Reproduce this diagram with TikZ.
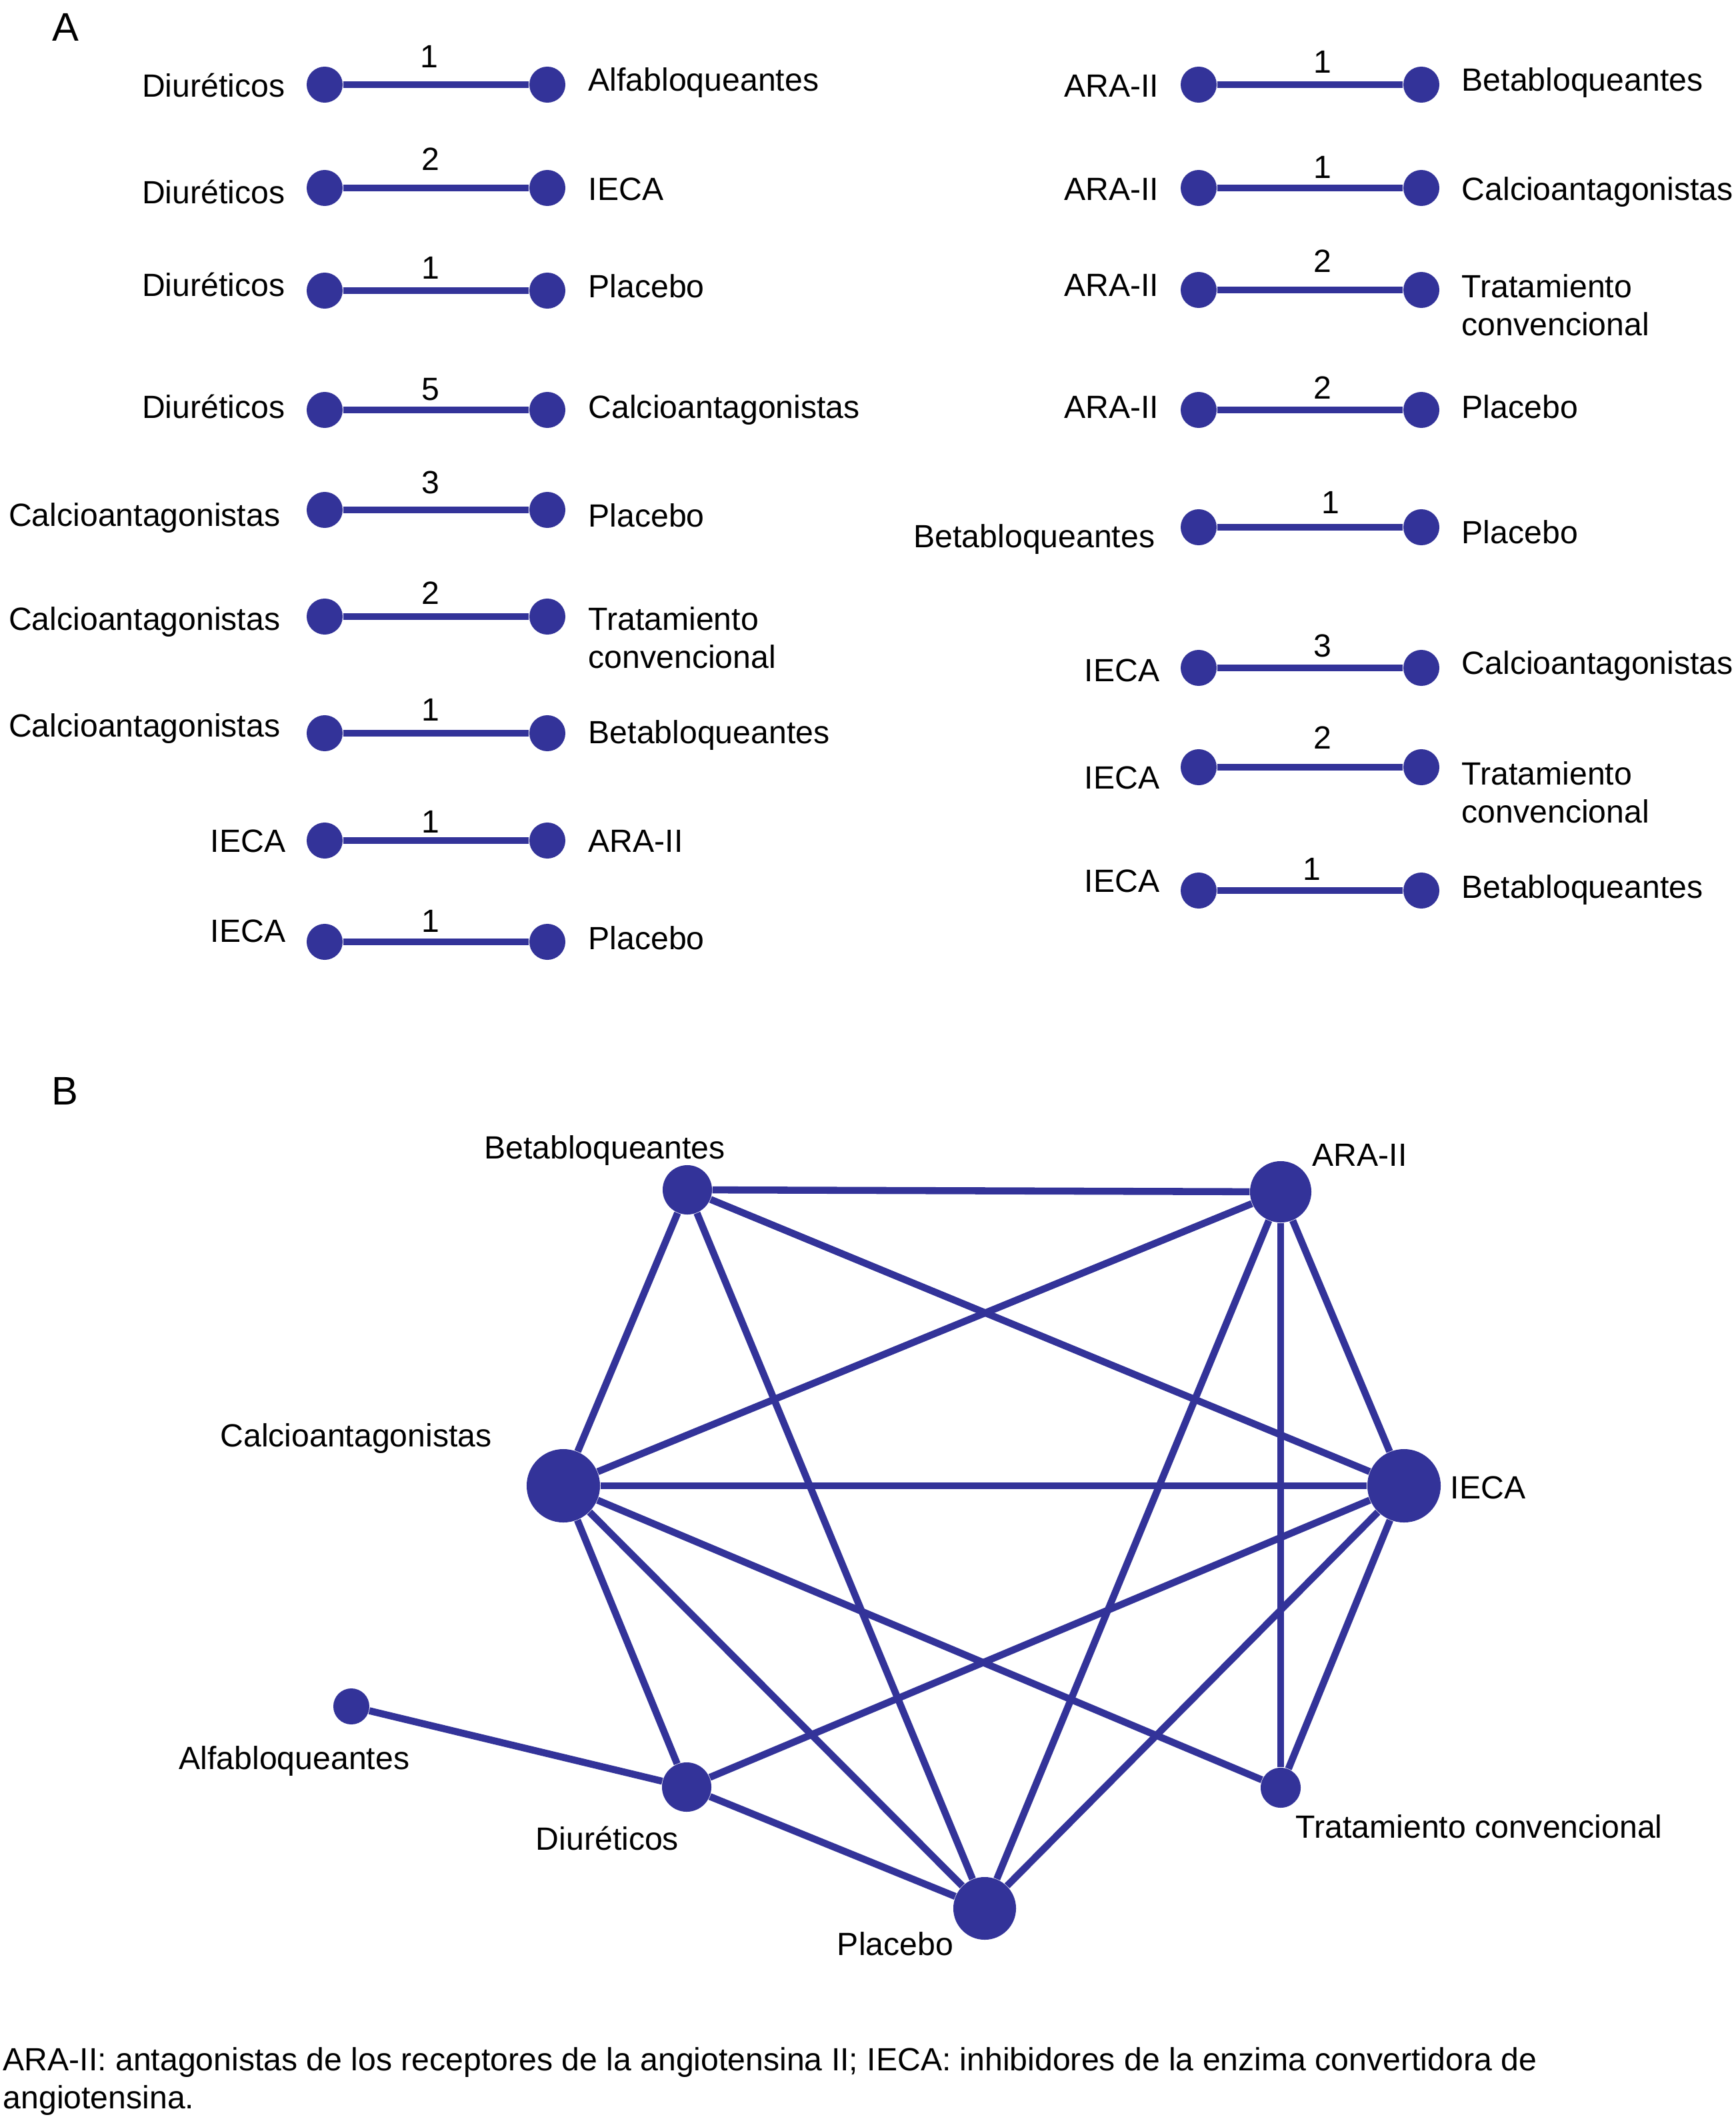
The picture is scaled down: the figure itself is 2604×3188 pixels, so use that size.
\documentclass[tikz,border=0pt]{standalone}
\usepackage{fontspec}
\setmainfont{Liberation Sans}
\usetikzlibrary{backgrounds}
\definecolor{netblue}{RGB}{51,51,153}
\newcommand{\twolines}[2]{\begin{tabular}[t]{@{}l@{}}#1\\#2\end{tabular}}
\begin{document}
\begin{tikzpicture}[x=0.01cm, y=-0.01cm,
  txt/.style={inner sep=0pt, font=\fontsize{13.7pt}{16.46pt}\selectfont},
  lab/.style={txt, anchor=base east},
  rab/.style={txt, anchor=base west},
  adot/.style={circle, fill=netblue, inner sep=0pt, minimum size=0.54cm},
  alink/.style={draw=netblue, line width=3.1pt},
  blink/.style={draw=netblue, line width=3pt},
  bdot/.style={circle, fill=netblue, inner sep=0pt, minimum size=#1},
  num/.style={txt, anchor=base, yshift=#1},
  panel/.style={inner sep=0pt, anchor=base, font=\fontsize{17pt}{20pt}\selectfont}]
\useasboundingbox (0,0) rectangle (2604,3188);
\begin{scope}[on background layer]
  \fill[white] (0,0) rectangle (2604,3188);
\end{scope}

\node[panel] (pA) at (98,62) {A};
\node[panel] (pB) at (97,1657) {B};

% ---------- Panel A, left column ----------
\node[lab] (l1) at (428,146) {Diuréticos};
\node[adot] (d1a) at (487,127) {}; \node[adot] (d1b) at (821,127) {};
\node[rab] (r1) at (882,137) {Alfabloqueantes};
\draw[alink] (d1a) -- node[num=0.25cm, pos=0.465] (n1) {1} (d1b);

\node[lab] (l2) at (428,306) {Diuréticos};
\node[adot] (d2a) at (487,282) {}; \node[adot] (d2b) at (821,282) {};
\node[rab] (r2) at (882,301) {IECA};
\draw[alink] (d2a) -- node[num=0.26cm, pos=0.47] (n2) {2} (d2b);

\node[lab] (l3) at (428,445) {Diuréticos};
\node[adot] (d3a) at (487,436) {}; \node[adot] (d3b) at (821,436) {};
\node[rab] (r3) at (882,446) {Placebo};
\draw[alink] (d3a) -- node[num=0.17cm, pos=0.47] (n3) {1} (d3b);

\node[lab] (l4) at (428,627) {Diuréticos};
\node[adot] (d4a) at (487,615) {}; \node[adot] (d4b) at (821,615) {};
\node[rab] (r4) at (882,627) {Calcioantagonistas};
\draw[alink] (d4a) -- node[num=0.14cm, pos=0.47] (n4) {5} (d4b);

\node[lab] (l5) at (421,789) {Calcioantagonistas};
\node[adot] (d5a) at (487,765) {}; \node[adot] (d5b) at (821,765) {};
\node[rab] (r5) at (882,790) {Placebo};
\draw[alink] (d5a) -- node[num=0.24cm, pos=0.47] (n5) {3} (d5b);

\node[lab] (l6) at (421,945) {Calcioantagonistas};
\node[adot] (d6a) at (487,925) {}; \node[adot] (d6b) at (821,925) {};
\node[rab] (r6) at (882,945) {\twolines{Tratamiento}{convencional}};
\draw[alink] (d6a) -- node[num=0.18cm, pos=0.47] (n6) {2} (d6b);

\node[lab] (l7) at (421,1105) {Calcioantagonistas};
\node[adot] (d7a) at (487,1100) {}; \node[adot] (d7b) at (821,1100) {};
\node[rab] (r7) at (882,1115) {Betabloqueantes};
\draw[alink] (d7a) -- node[num=0.18cm, pos=0.47] (n7) {1} (d7b);

\node[lab] (l8) at (429,1278) {IECA};
\node[adot] (d8a) at (487,1261) {}; \node[adot] (d8b) at (821,1261) {};
\node[rab] (r8) at (882,1278) {ARA-II};
\draw[alink] (d8a) -- node[num=0.12cm, pos=0.47] (n8) {1} (d8b);

\node[lab] (l9) at (429,1413) {IECA};
\node[adot] (d9a) at (487,1413) {}; \node[adot] (d9b) at (821,1413) {};
\node[rab] (r9) at (882,1424) {Placebo};
\draw[alink] (d9a) -- node[num=0.15cm, pos=0.47] (n9) {1} (d9b);

% ---------- Panel A, right column ----------
\node[lab] (m1) at (1739,146) {ARA-II};
\node[adot] (e1a) at (1798,127) {}; \node[adot] (e1b) at (2132,127) {};
\node[rab] (s1) at (2192,137) {Betabloqueantes};
\draw[alink] (e1a) -- node[num=0.17cm, pos=0.567] (o1) {1} (e1b);

\node[lab] (m2) at (1739,301) {ARA-II};
\node[adot] (e2a) at (1798,282) {}; \node[adot] (e2b) at (2132,282) {};
\node[rab] (s2) at (2192,301) {Calcioantagonistas};
\draw[alink] (e2a) -- node[num=0.14cm, pos=0.567] (o2) {1} (e2b);

\node[lab] (m3) at (1739,445) {ARA-II};
\node[adot] (e3a) at (1798,435) {}; \node[adot] (e3b) at (2132,435) {};
\node[rab] (s3) at (2192,446) {\twolines{Tratamiento}{convencional}};
\draw[alink] (e3a) -- node[num=0.26cm, pos=0.567] (o3) {2} (e3b);

\node[lab] (m4) at (1739,627) {ARA-II};
\node[adot] (e4a) at (1798,615) {}; \node[adot] (e4b) at (2132,615) {};
\node[rab] (s4) at (2192,627) {Placebo};
\draw[alink] (e4a) -- node[num=0.16cm, pos=0.567] (o4) {2} (e4b);

\node[lab] (m5) at (1733,821) {Betabloqueantes};
\node[adot] (e5a) at (1798,791) {}; \node[adot] (e5b) at (2132,791) {};
\node[rab] (s5) at (2192,815) {Placebo};
\draw[alink] (e5a) -- node[num=0.20cm, pos=0.61] (o5) {1} (e5b);

\node[lab] (m6) at (1740,1022) {IECA};
\node[adot] (e6a) at (1798,1002) {}; \node[adot] (e6b) at (2132,1002) {};
\node[rab] (s6) at (2192,1011) {Calcioantagonistas};
\draw[alink] (e6a) -- node[num=0.16cm, pos=0.567] (o6) {3} (e6b);

\node[lab] (m7) at (1740,1183) {IECA};
\node[adot] (e7a) at (1798,1151) {}; \node[adot] (e7b) at (2132,1151) {};
\node[rab] (s7) at (2192,1177) {\twolines{Tratamiento}{convencional}};
\draw[alink] (e7a) -- node[num=0.27cm, pos=0.567] (o7) {2} (e7b);

\node[lab] (m8) at (1740,1338) {IECA};
\node[adot] (e8a) at (1798,1336) {}; \node[adot] (e8b) at (2132,1336) {};
\node[rab] (s8) at (2192,1347) {Betabloqueantes};
\draw[alink] (e8a) -- node[num=0.16cm, pos=0.511] (o8) {1} (e8b);

% ---------- Panel B ----------
\node[bdot=0.74cm] (bbeta) at (1031,1785) {};
\node[bdot=0.92cm] (bara) at (1921,1788) {};
\node[bdot=1.10cm] (bcal) at (845,2229) {};
\node[bdot=1.10cm] (bieca) at (2106,2229) {};
\node[bdot=0.54cm] (balfa) at (527,2560) {};
\node[bdot=0.74cm] (bdiu) at (1030,2681) {};
\node[bdot=0.60cm] (btrat) at (1921,2682) {};
\node[bdot=0.94cm] (bpla) at (1477,2863) {};

\begin{scope}[on background layer]
  \draw[blink] (bbeta) -- (bara);
  \draw[blink] (bbeta) -- (bcal);
  \draw[blink] (bbeta) -- (bpla);
  \draw[blink] (bbeta) -- (bieca);
  \draw[blink] (bara) -- (bcal);
  \draw[blink] (bara) -- (bpla);
  \draw[blink] (bara) -- (btrat);
  \draw[blink] (bara) -- (bieca);
  \draw[blink] (bcal) -- (bieca);
  \draw[blink] (bcal) -- (bdiu);
  \draw[blink] (bcal) -- (bpla);
  \draw[blink] (bcal) -- (btrat);
  \draw[blink] (bieca) -- (bdiu);
  \draw[blink] (bieca) -- (bpla);
  \draw[blink] (bieca) -- (btrat);
  \draw[blink] (balfa) -- (bdiu);
  \draw[blink] (bdiu) -- (bpla);
\end{scope}

\node[txt, anchor=base] (tbeta) at (907,1738) {Betabloqueantes};
\node[rab] (tara) at (1968,1749) {ARA-II};
\node[txt, anchor=base] (tcal) at (534,2170) {Calcioantagonistas};
\node[rab] (tieca) at (2175,2248) {IECA};
\node[rab] (talfa) at (268,2654) {Alfabloqueantes};
\node[txt, anchor=base] (tdiu) at (911,2775) {Diuréticos};
\node[rab] (ttrat) at (1943,2757) {Tratamiento convencional};
\node[txt, anchor=base] (tpla) at (1343,2933) {Placebo};

% ---------- Caption ----------
\node[rab] (cap) at (4,3106) {\twolines{ARA-II: antagonistas de los receptores de la angiotensina II; IECA: inhibidores de la enzima convertidora de}{angiotensina.}};
\end{tikzpicture}
\end{document}
